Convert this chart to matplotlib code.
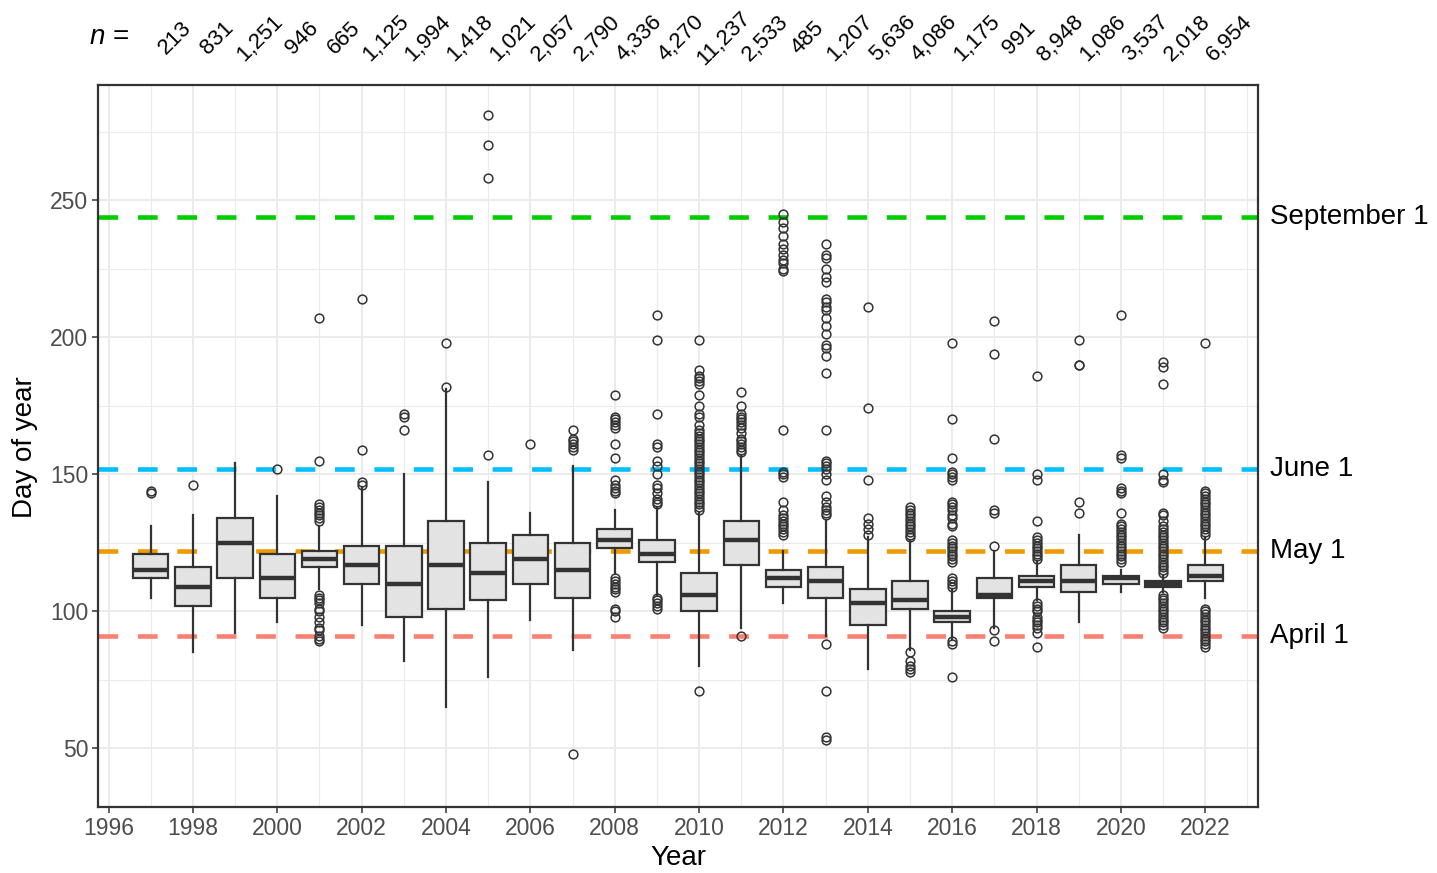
import matplotlib
matplotlib.use("Agg")
import matplotlib.pyplot as plt
import matplotlib.transforms as mtransforms
from matplotlib.ticker import MultipleLocator

plt.rcParams["font.family"] = ["Liberation Sans", "DejaVu Sans"]
plt.rcParams["mathtext.fontset"] = "custom"
plt.rcParams["mathtext.it"] = "Liberation Sans:italic"
plt.rcParams["mathtext.rm"] = "Liberation Sans"

# ── Data ───────────────────────────────────────────────────────────────────
years = list(range(1997, 2023))
n_obs = [213, 831, 1251, 946, 665, 1125, 1994, 1418, 1021, 2057, 2790, 4336,
         4270, 11237, 2533, 485, 1207, 5636, 4086, 1175, 991, 8948, 1086,
         3537, 2018, 6954]

q1 = [112, 102, 112, 105, 116, 110, 98, 101, 104, 110, 105, 123, 118, 100,
      117, 109, 105, 95, 101, 96, 105, 109, 107, 110, 109, 111]
med = [115, 109, 125, 112, 119, 117, 110, 117, 114, 119, 115, 126, 121, 106,
       126, 112, 111, 103, 104, 98, 106, 111, 111, 112, 110, 113]
q3 = [121, 116, 134, 121, 122, 124, 124, 133, 125, 128, 125, 130, 126, 114,
      133, 115, 116, 108, 111, 100, 112, 113, 117, 113, 111, 117]
whis_lo = [105, 85, 92, 96, 108, 95, 82, 65, 76, 97, 86, 114, 106, 80, 94,
           103, 91, 79, 86, 90, 94, 104, 96, 107, 107, 105]
whis_hi = [131, 135, 154, 142, 131, 145, 150, 181, 147, 136, 153, 137, 138,
           136, 157, 122, 133, 127, 126, 108, 122, 118, 128, 115, 113, 127]

outliers = [
    [143, 144],                                                     # 1997
    [146],                                                          # 1998
    [],                                                             # 1999
    [152],                                                          # 2000
    [133, 134, 135, 136, 137, 138, 139, 155, 207,
     106, 105, 104, 103, 101, 100, 98, 96, 94, 93, 91, 90, 89],     # 2001
    [146, 147, 159, 214],                                           # 2002
    [166, 171, 172],                                                # 2003
    [182, 198],                                                     # 2004
    [157, 258, 270, 281],                                           # 2005
    [161],                                                          # 2006
    [159, 160, 161, 162, 163, 166, 48],                             # 2007
    [143, 144, 145, 146, 148, 156, 161, 167, 168, 169, 170, 171, 179,
     112, 111, 110, 109, 108, 107, 101, 100, 98],                   # 2008
    [139, 140, 141, 143, 145, 146, 150, 153, 155, 160, 161, 172, 199,
     208, 105, 104, 103, 102, 101],                                 # 2009
    [137, 138, 139, 140, 141, 142, 143, 144, 145, 146, 147, 148, 149,
     150, 151, 152, 153, 154, 155, 156, 157, 158, 159, 160, 161, 162,
     163, 164, 165, 166, 168, 171, 172, 175, 179, 183, 184, 185, 186,
     188, 199, 71],                                                 # 2010
    [158, 159, 160, 161, 162, 163, 165, 167, 168, 169, 170, 171, 172,
     175, 180, 91],                                                 # 2011
    [128, 129, 130, 131, 132, 133, 134, 135, 137, 140, 149, 150, 151,
     166, 224, 225, 227, 228, 230, 232, 234, 237, 240, 242, 245],   # 2012
    [135, 136, 137, 138, 140, 142, 148, 150, 152, 153, 154, 155, 166,
     187, 193, 196, 197, 201, 204, 207, 210, 211, 213, 214, 220, 222,
     225, 229, 230, 234, 88, 71, 53, 54],                           # 2013
    [128, 130, 132, 134, 148, 174, 211],                            # 2014
    [127, 128, 129, 130, 131, 132, 133, 134, 135, 136, 137, 138,
     85, 82, 80, 79, 78],                                           # 2015
    [109, 110, 111, 112, 118, 119, 120, 121, 122, 123, 124, 125, 126,
     131, 132, 134, 135, 137, 138, 139, 140, 148, 149, 150, 151, 156,
     170, 198, 89, 88, 76],                                         # 2016
    [124, 136, 137, 163, 194, 206, 93, 89],                         # 2017
    [119, 120, 121, 122, 123, 124, 125, 126, 127, 133, 148, 150, 186,
     103, 102, 101, 100, 98, 97, 96, 95, 94, 92, 87],               # 2018
    [136, 140, 190, 190, 199],                                      # 2019
    [118, 119, 120, 121, 122, 123, 124, 125, 126, 127, 128, 129, 130,
     131, 132, 136, 143, 144, 145, 156, 157, 208],                  # 2020
    [114, 115, 116, 117, 118, 119, 120, 121, 122, 123, 124, 125, 126,
     127, 128, 129, 130, 131, 133, 135, 136, 147, 148, 150, 183, 189,
     191, 106, 105, 104, 103, 102, 101, 100, 99, 98, 97, 96, 95, 94],  # 2021
    [128, 129, 130, 131, 132, 133, 134, 135, 136, 137, 138, 139, 140,
     141, 142, 143, 144, 198, 101, 100, 99, 98, 97, 96, 95, 94, 93, 92,
     91, 90, 89, 88, 87],                                           # 2022
]

ref_days = [244, 152, 122, 91]
ref_labels = ["September 1", "June 1", "May 1", "April 1"]
ref_colors = ["#00CD00", "#00BFFF", "#EE9A00", "#FA8072"]

# ── Plot ───────────────────────────────────────────────────────────────────
DARK = "#333333"
TICK_GREY = "#4D4D4D"

fig = plt.figure(figsize=(14.37, 8.73), dpi=100)
fig.patch.set_facecolor("white")
ax = fig.add_axes([0.0682, 0.0756, 0.8072, 0.8270])

stats = []
for i in range(len(years)):
    stats.append({
        "q1": q1[i], "med": med[i], "q3": q3[i],
        "whislo": whis_lo[i], "whishi": whis_hi[i],
        "fliers": outliers[i],
    })

for day, color in zip(ref_days, ref_colors):
    ax.axhline(day, color=color, lw=3.3, ls=(0, (4.3, 4.3)), zorder=1.5)

ax.bxp(stats, positions=years, widths=0.84, patch_artist=True,
       showcaps=False, manage_ticks=False,
       boxprops=dict(facecolor="#E3E3E3", edgecolor=DARK, linewidth=1.6),
       medianprops=dict(color=DARK, linewidth=3.2, solid_capstyle="butt"),
       whiskerprops=dict(color=DARK, linewidth=1.6),
       flierprops=dict(marker="o", markerfacecolor="none",
                       markeredgecolor=DARK, markersize=6.3,
                       markeredgewidth=1.1),
       zorder=2)

ax.set_xlim(1995.75, 2023.25)
ax.set_ylim(28.6, 292)
ax.xaxis.set_major_locator(MultipleLocator(2))
ax.xaxis.set_minor_locator(MultipleLocator(1))
ax.yaxis.set_major_locator(MultipleLocator(50))
ax.yaxis.set_minor_locator(MultipleLocator(25))

ax.grid(which="major", color="#EBEBEB", lw=1.4, zorder=0)
ax.grid(which="minor", color="#EBEBEB", lw=0.8, zorder=0)
ax.set_axisbelow(True)

ax.tick_params(which="major", length=4, width=1.1, color=DARK,
               labelsize=16.5, labelcolor=TICK_GREY, pad=3)
ax.tick_params(which="minor", length=0)
for s in ax.spines.values():
    s.set_color(DARK)
    s.set_linewidth(1.6)

# reference-date labels on the right
for day, label in zip(ref_days, ref_labels):
    ax.text(1.0103, day, label, transform=ax.get_yaxis_transform(),
            fontsize=20, va="center", ha="left", color="black")

# sample sizes above the panel
trans = mtransforms.blended_transform_factory(ax.transData, fig.transFigure)
for yr, n in zip(years, n_obs):
    ax.text(yr + 0.58, 0.956, f"{n:,}", transform=trans, rotation=45,
            rotation_mode="anchor", ha="center", va="center", fontsize=16)
fig.text(109 / 1437, 0.958, r"$n$ =", fontsize=20, ha="center", va="center")

fig.text(678 / 1437, 1 - 858 / 873, "Year", fontsize=20,
         ha="center", va="center")
fig.text(25 / 1437, 1 - 447 / 873, "Day of year", fontsize=20,
         ha="center", va="center", rotation=90)

fig.savefig("out.png", dpi=100, facecolor="white")
